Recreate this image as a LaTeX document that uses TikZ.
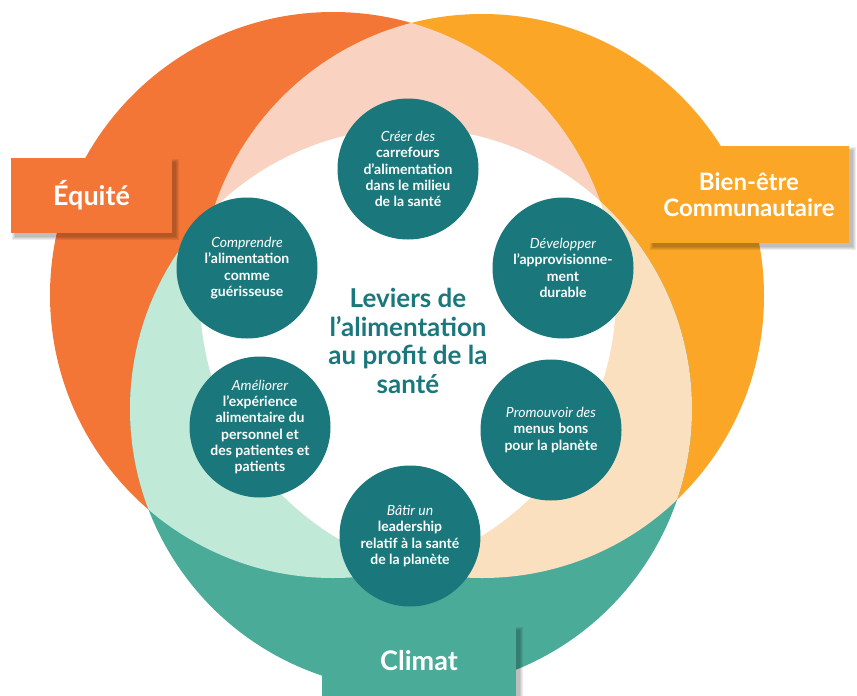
\documentclass[tikz,border=0pt]{standalone}
\usepackage{fontspec}
\setmainfont{Lato}
\definecolor{equitecolor}{RGB}{244,118,54}
\definecolor{bienetrecolor}{RGB}{251,166,38}
\definecolor{climatcolor}{RGB}{74,171,152}
\definecolor{pinkcolor}{RGB}{250,210,193}
\definecolor{peachcolor}{RGB}{251,224,192}
\definecolor{mintcolor}{RGB}{192,233,216}
\definecolor{levercolor}{RGB}{26,120,124}
\newcommand{\equitering}{(333,295) circle (283)}
\newcommand{\bienetrering}{(482,296) circle (282)}
\newcommand{\climatring}{(411,409) circle (281)}
\pgfdeclarelayer{labels}
\pgfsetlayers{main,labels}

\begin{document}
\begin{tikzpicture}[
    x=1pt, y=-1pt,
    lever/.style={circle, fill=levercolor, text=white, minimum size=141pt, inner sep=0pt, align=center, font=\bfseries\fontsize{14}{16.3}\selectfont},
    pillar/.style={fill=#1, text=white, align=center, inner sep=0pt, font=\bfseries\fontsize{24}{26}\selectfont}
]
    \useasboundingbox (0,0) rectangle (857,696);

    % Three big circles
    \fill[equitecolor] \equitering;
    \fill[bienetrecolor] \bienetrering;
    \fill[climatcolor] \climatring;

    % Overlaps
    \begin{scope}
        \clip \equitering;
        \fill[pinkcolor] \bienetrering;
        \fill[mintcolor] \climatring;
    \end{scope}
    \begin{scope}
        \clip \bienetrering;
        \fill[peachcolor] \climatring;
        \clip \equitering;
        \fill[white] \climatring;
    \end{scope}

    % Levers
    \node[lever] (creer) at (408,169) {{\mdseries\itshape Créer des}\\carrefours\\d'alimentation\\dans le milieu\\de la santé};
    \node[lever] (comprendre) at (247,268) {{\mdseries\itshape Comprendre}\\l'alimentation\\comme\\guérisseuse};
    \node[lever] (developper) at (563,268) {{\mdseries\itshape Développer}\\l'approvisionne-\\ment\\durable};
    \node[lever] (ameliorer) at (260,427) {{\mdseries\itshape Améliorer}\\l'expérience\\alimentaire du\\personnel et\\des patientes et\\patients};
    \node[lever] (promouvoir) at (551,430) {{\mdseries\itshape Promouvoir des}\\menus bons\\pour la planète};
    \node[lever] (batir) at (410,536) {{\mdseries\itshape Bâtir un}\\leadership\\relatif à la santé\\de la planète};

    % Centre
    \node[text=levercolor, font=\bfseries\fontsize{26}{28.5}\selectfont, align=center] (leviers) at (408,341) {Leviers de\\l'alimentation\\au profit de la\\santé};

    % Labels
    \begin{pgfonlayer}{labels}
    \node[pillar=equitecolor, minimum width=161pt, minimum height=75pt, font=\bfseries\fontsize{27}{28}\selectfont] (equite) at (91.5,195.5) {Équité};
    \node[pillar=bienetrecolor, minimum width=200pt, minimum height=97pt] (bienetre) at (749,194.5) {Bien-être\\Communautaire};
    \node[pillar=climatcolor, minimum width=194pt, minimum height=70pt, font=\bfseries\fontsize{27}{28}\selectfont] (climat) at (419,661) {Climat};
    \end{pgfonlayer}

    % Soft shadows behind the labels
    \foreach \lbl in {equite,bienetre,climat}
        \foreach \s in {0,1,2,3}
            \fill[black, opacity=0.07] ([shift={(4-\s,4-\s)}]\lbl.north west) rectangle ([shift={(4+\s,4+\s)}]\lbl.south east);
\end{tikzpicture}
\end{document}
